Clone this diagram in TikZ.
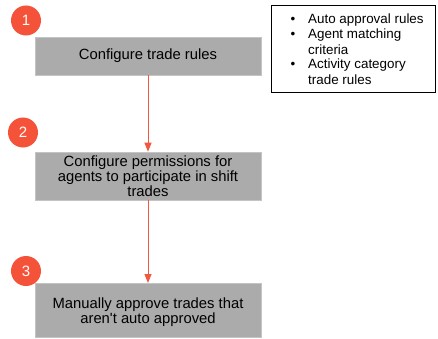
\documentclass[tikz,border=0pt]{standalone}
\usepackage{fontspec}
\setmainfont{Liberation Sans}
\usetikzlibrary{arrows.meta}
\definecolor{stepgray}{HTML}{ABABAB}
\definecolor{stepedge}{HTML}{C4C4C4}
\definecolor{badgered}{HTML}{F4533A}
\definecolor{flowred}{HTML}{F0583F}
\begin{document}
\begin{tikzpicture}[x=1pt,y=-1pt,
  stepbox/.style={fill=stepgray,draw=stepedge,line width=0.6pt,minimum width=226pt,
    inner sep=0pt,align=center,font=\fontsize{14.8}{15}\selectfont},
  badge/.style={circle,fill=badgered,text=white,minimum size=30pt,inner sep=0pt,
    font=\fontsize{15}{16}\selectfont},
  flow/.style={draw=flowred,line width=1pt,-{Triangle[length=9pt,width=7pt]}},
  notebox/.style={draw=black,line width=0.9pt,minimum width=164pt,minimum height=87pt,inner sep=0pt},
  notetext/.style={inner sep=0pt,font=\fontsize{13.4}{15}\selectfont}]
\useasboundingbox (0,0) rectangle (438,339);
% steps
\node[stepbox,minimum height=38pt] (s1) at (148,56) {Configure trade rules};
\node[stepbox,minimum height=48pt] (s2) at (148,176) {Configure permissions for\\agents to participate in shift\\trades};
\node[stepbox,minimum height=54pt,anchor=north] (s3) at (148,283) {};
\node[align=center,font=\fontsize{14.8}{15}\selectfont] (t3) at (148,312) {Manually approve trades that\\aren\textquotesingle t auto approved};
% numbered badges
\node[badge] (b1) at (26,20.5) {1};
\node[badge] (b2) at (23,132.5) {2};
\node[badge] (b3) at (26,271) {3};
% connectors
\draw[flow] (s1.south) -- (s2.north);
\draw[flow] (s2.south) -- (s3.north);
% rule notes
\node[notebox] (n) at (353.5,48.5) {};
\foreach \yy/\txt/\bul in {20/Auto approval rules/1,35/Agent matching/1,50/criteria/0,65/Activity category/1,80/trade rules/0}{
  \node[anchor=west,notetext] (l\yy) at (308,\yy) {\txt};
  \ifnum\bul=1 \node[notetext] (d\yy) at (293,\yy) {•};\fi
}
\end{tikzpicture}
\end{document}
